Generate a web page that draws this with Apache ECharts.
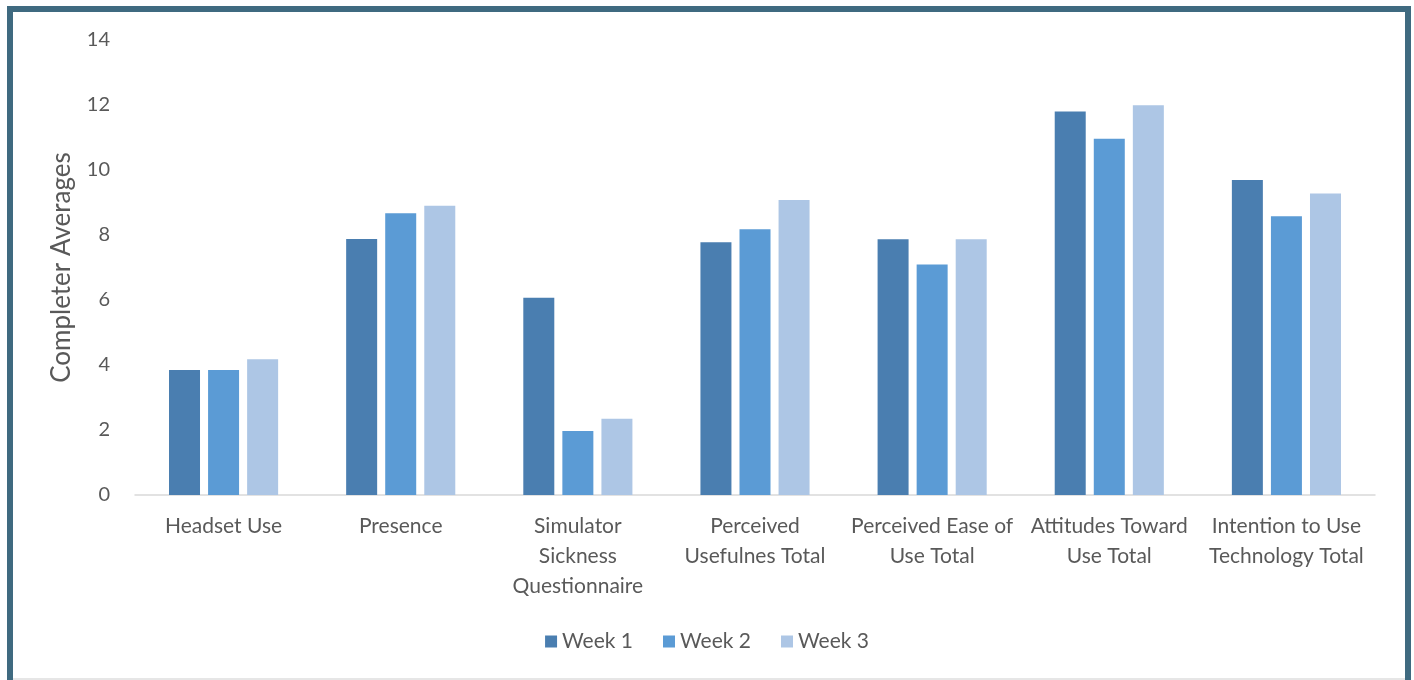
<!DOCTYPE html>
<html>
<head>
<meta charset="utf-8">
<script src="https://cdn.jsdelivr.net/npm/echarts@6/dist/echarts.min.js"></script>
<style>
html,body{margin:0;padding:0;background:#fff;}
#chart{width:1414px;height:680px;}
</style>
</head>
<body>
<div id="chart"></div>
<script>
const categories = [
  'Headset Use',
  'Presence',
  'Simulator\nSickness\nQuestionnaire',
  'Perceived\nUsefulnes Total',
  'Perceived Ease of\nUse Total',
  'Attitudes Toward\nUse Total',
  'Intention to Use\nTechnology Total'
];
const seriesNames = ['Week 1', 'Week 2', 'Week 3'];
const week1 = [3.85, 7.88, 6.07, 7.78, 7.87, 11.8, 9.69];
const week2 = [3.85, 8.67, 1.97, 8.18, 7.09, 10.96, 8.58];
const week3 = [4.18, 8.9, 2.35, 9.08, 7.87, 11.99, 9.28];
const yTicks = [0, 2, 4, 6, 8, 10, 12, 14];
const axisTitle = 'Completer Averages';

const colors = ['#4a7eb0', '#5b9bd5', '#adc6e5'];
const font = 'Lato, "Open Sans", sans-serif';
const textColor = '#595959';

const chart = echarts.init(document.getElementById('chart'));
const values = [week1, week2, week3];
chart.setOption({
  animation: false,
  backgroundColor: '#ffffff',
  color: colors,
  grid: { left: 135, right: 39, top: 40, bottom: 185, containLabel: false },
  legend: {
    data: seriesNames,
    top: 626,
    left: 'center',
    icon: 'rect',
    itemWidth: 12,
    itemHeight: 12,
    itemGap: 30,
    textStyle: { color: textColor, fontSize: 21, fontFamily: font }
  },
  xAxis: {
    type: 'category',
    data: categories,
    axisLine: { show: true, lineStyle: { color: '#d9d9d9', width: 1.5 } },
    axisTick: { show: false },
    axisLabel: {
      interval: 0,
      color: textColor,
      fontSize: 21,
      fontFamily: font,
      lineHeight: 30,
      margin: 16
    }
  },
  yAxis: {
    type: 'value',
    min: yTicks[0],
    max: yTicks[yTicks.length - 1],
    interval: yTicks[1] - yTicks[0],
    name: axisTitle,
    nameLocation: 'middle',
    nameGap: 60,
    nameTextStyle: { color: textColor, fontSize: 26, fontFamily: font },
    axisLine: { show: false },
    axisTick: { show: false },
    splitLine: { show: false },
    axisLabel: { color: textColor, fontSize: 20, fontFamily: font, margin: 25 }
  },
  series: seriesNames.map((n, i) => ({
    name: n,
    type: 'bar',
    data: values[i],
    barWidth: 31,
    barGap: '26%',
    itemStyle: { color: colors[i] }
  })),
  graphic: [
    { type: 'rect', shape: { x: 7, y: 6, width: 1404, height: 6 }, style: { fill: '#3f6a80' } },
    { type: 'rect', shape: { x: 7, y: 6, width: 6, height: 674 }, style: { fill: '#3f6a80' } },
    { type: 'rect', shape: { x: 1405, y: 6, width: 6, height: 674 }, style: { fill: '#3f6a80' } },
    { type: 'rect', shape: { x: 13, y: 678, width: 1392, height: 2 }, style: { fill: '#e6e6e6' } }
  ]
});
</script>
</body>
</html>
